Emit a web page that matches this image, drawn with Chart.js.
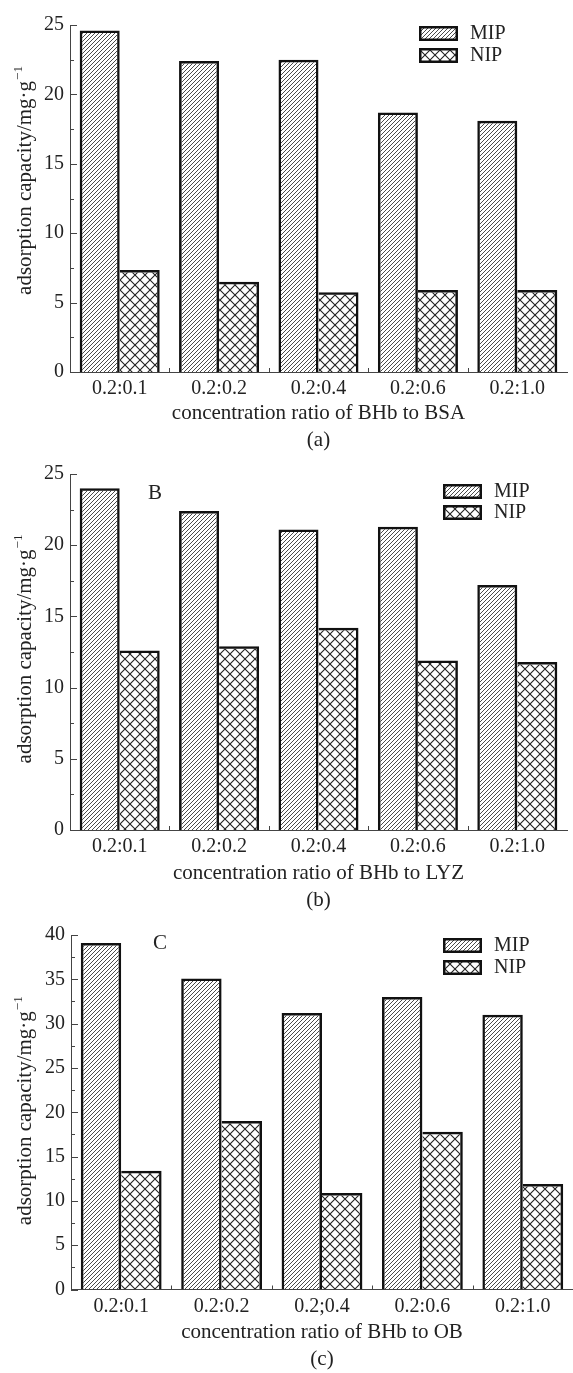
<!DOCTYPE html>
<html><head><meta charset="utf-8">
<script src="https://cdn.jsdelivr.net/npm/chart.js@4.4.0/dist/chart.umd.min.js"></script>
<style>
html,body{margin:0;padding:0;background:#fff;}
body{width:573px;height:1373px;overflow:hidden;}
canvas{display:block;}
</style></head><body>
<canvas id="ca" width="573" height="454"></canvas>
<canvas id="cb" width="573" height="460"></canvas>
<canvas id="cc" width="573" height="459"></canvas>
<script>
// ---- data ----
const categoriesA = ['0.2:0.1', '0.2:0.2', '0.2:0.4', '0.2:0.6', '0.2:1.0'];
const categoriesB = ['0.2:0.1', '0.2:0.2', '0.2:0.4', '0.2:0.6', '0.2:1.0'];
const categoriesC = ['0.2:0.1', '0.2:0.2', '0.2;0.4', '0.2:0.6', '0.2:1.0'];
const seriesNames = ['MIP', 'NIP'];
const mipA = [24.6, 22.4, 22.5, 18.7, 18.1];
const nipA = [7.35, 6.5, 5.75, 5.9, 5.9];
const mipB = [24.0, 22.4, 21.1, 21.3, 17.2];
const nipB = [12.6, 12.9, 14.2, 11.9, 11.8];
const mipC = [39.1, 35.1, 31.2, 33.0, 31.0];
const nipC = [13.4, 19.0, 10.9, 17.8, 11.9];
const yTickLabelsAB = [0, 5, 10, 15, 20, 25];
const yTickLabelsC = [0, 5, 10, 15, 20, 25, 30, 35, 40];
const yTitle = 'adsorption capacity/mg·g';
const yTitleSup = '−1';
const xTitleA = ['concentration ratio of BHb to BSA', '(a)'];
const xTitleB = ['concentration ratio of BHb to LYZ', '(b)'];
const xTitleC = ['concentration ratio of BHb to OB', '(c)'];

const FONT = "'Liberation Serif', 'Times New Roman', serif";
Chart.defaults.font.family = FONT;
Chart.defaults.color = '#222';

function makePatterns(ctx) {
  const t1 = document.createElement('canvas');
  t1.width = 4; t1.height = 4;
  const g1 = t1.getContext('2d');
  g1.strokeStyle = '#2a2a2a'; g1.lineWidth = 0.85;
  g1.beginPath();
  g1.moveTo(0, 4); g1.lineTo(4, 0);
  g1.moveTo(-1, 1); g1.lineTo(1, -1);
  g1.moveTo(3, 5); g1.lineTo(5, 3);
  g1.stroke();
  const t2 = document.createElement('canvas');
  t2.width = 10; t2.height = 10;
  const g2 = t2.getContext('2d');
  g2.strokeStyle = '#222'; g2.lineWidth = 1.1;
  g2.beginPath();
  g2.moveTo(0, 0); g2.lineTo(10, 10);
  g2.moveTo(10, 0); g2.lineTo(0, 10);
  g2.stroke();
  return [ctx.createPattern(t1, 'repeat'), ctx.createPattern(t2, 'repeat')];
}

const decor = {
  id: 'decor',
  afterDraw(chart, args, o) {
    const {ctx, chartArea: ca, scales: {x, y}} = chart;
    ctx.save();
    // inward y ticks
    ctx.strokeStyle = '#444'; ctx.lineWidth = 1;
    y.ticks.forEach(t => {
      const py = Math.round(y.getPixelForValue(t.value)) + 0.5;
      const len = (t.value % 5 === 0) ? 7 : 4;
      ctx.beginPath(); ctx.moveTo(ca.left, py); ctx.lineTo(ca.left + len, py); ctx.stroke();
    });
    // category boundary ticks on x axis
    for (let i = 0; i < x.ticks.length - 1; i++) {
      const px = Math.round((x.getPixelForValue(i) + x.getPixelForValue(i + 1)) / 2) + 0.5;
      ctx.beginPath(); ctx.moveTo(px, ca.bottom); ctx.lineTo(px, ca.bottom - 4); ctx.stroke();
    }
    // y title with superscript
    ctx.fillStyle = '#222';
    ctx.translate(o.yTitleX, (ca.top + ca.bottom) / 2 + o.yTitleShift);
    ctx.rotate(-Math.PI / 2);
    ctx.font = '21px ' + FONT;
    const w1 = ctx.measureText(yTitle).width;
    ctx.font = '13px ' + FONT;
    const w2 = ctx.measureText(yTitleSup).width;
    const start = -(w1 + w2 + 1) / 2;
    ctx.textBaseline = 'alphabetic'; ctx.textAlign = 'left';
    ctx.font = '21px ' + FONT;
    ctx.fillText(yTitle, start, 7);
    ctx.font = '13px ' + FONT;
    ctx.fillText(yTitleSup, start + w1 + 1, -2);
    ctx.restore();

    ctx.save();
    // panel letter
    if (o.letter) {
      ctx.fillStyle = '#222';
      ctx.font = '21px ' + FONT;
      ctx.textAlign = 'center'; ctx.textBaseline = 'middle';
      ctx.fillText(o.letter.text, ca.left + o.letter.dx, ca.top + o.letter.dy);
    }
    // legend
    const L = o.legend;
    chart.data.datasets.forEach((ds, i) => {
      const bx = ca.right + L.dx, by = ca.top + L.dy + i * L.gap;
      ctx.fillStyle = ds.backgroundColor;
      ctx.fillRect(bx, by, 39, 15);
      ctx.strokeStyle = '#111'; ctx.lineWidth = 2.5;
      ctx.strokeRect(bx + 1.25, by + 1.25, 39 - 2.5, 15 - 2.5);
      ctx.fillStyle = '#222';
      ctx.font = '20px ' + FONT;
      ctx.textAlign = 'left'; ctx.textBaseline = 'middle';
      ctx.fillText(ds.label, bx + 51, by + 8);
    });
    ctx.restore();
  }
};

function makeChart(id, cats, mip, nip, yMax, yLabels, xTitle, lay) {
  const canvas = document.getElementById(id);
  const ctx = canvas.getContext('2d');
  const [p1, p2] = makePatterns(ctx);
  return new Chart(ctx, {
    type: 'bar',
    data: {
      labels: cats,
      datasets: [
        {label: seriesNames[0], data: mip, backgroundColor: p1, borderColor: '#111',
         borderWidth: {top: 2.5, left: 2.5, right: 2.5, bottom: 0}, borderSkipped: false},
        {label: seriesNames[1], data: nip, backgroundColor: p2, borderColor: '#111',
         borderWidth: {top: 2.5, left: 0, right: 2.5, bottom: 0}, borderSkipped: false}
      ]
    },
    options: {
      responsive: false, animation: false, devicePixelRatio: 1, events: [],
      layout: {padding: {top: lay.top, right: lay.right, left: 0, bottom: 0}},
      datasets: {bar: {categoryPercentage: 0.805, barPercentage: 1.0}},
      plugins: {
        legend: {display: false}, tooltip: {enabled: false},
        decor: {yTitleX: 24, yTitleShift: lay.yShift, letter: lay.letter, legend: lay.legend}
      },
      scales: {
        x: {
          grid: {display: false, drawTicks: false, tickLength: 0},
          border: {display: true, color: '#444', width: 1},
          ticks: {font: {size: 20}, color: '#222', padding: 5, maxRotation: 0, autoSkip: false},
          title: {display: true, text: xTitle, font: {size: 21, lineHeight: 27 / 21}, color: '#222', padding: 0},
          afterFit: s => { s.height = lay.xh; }
        },
        y: {
          min: 0, max: yMax,
          grid: {display: false, drawTicks: false, tickLength: 0},
          border: {display: true, color: '#444', width: 1},
          ticks: {stepSize: 2.5, autoSkip: false, font: {size: 20}, color: '#222', padding: 6,
                  callback: v => yLabels.includes(v) ? String(v) : ''},
          afterFit: s => { s.width = lay.yw; }
        }
      }
    },
    plugins: [decor]
  });
}

makeChart('ca', categoriesA, mipA, nipA, 25, yTickLabelsAB, xTitleA,
  {top: 25, right: 6, xh: 82, yw: 70, yShift: -18, letter: null, legend: {dx: -148, dy: 1, gap: 22}});
makeChart('cb', categoriesB, mipB, nipB, 25, yTickLabelsAB, xTitleB,
  {top: 20, right: 6, xh: 84, yw: 70, yShift: -3, letter: {text: 'B', dx: 85, dy: 19}, legend: {dx: -124, dy: 10, gap: 21}});
makeChart('cc', categoriesC, mipC, nipC, 40, yTickLabelsC, xTitleC,
  {top: 21, right: 0, xh: 83.5, yw: 71, yShift: -1.5, letter: {text: 'C', dx: 89, dy: 8}, legend: {dx: -130, dy: 3, gap: 22}});
</script>
</body></html>
